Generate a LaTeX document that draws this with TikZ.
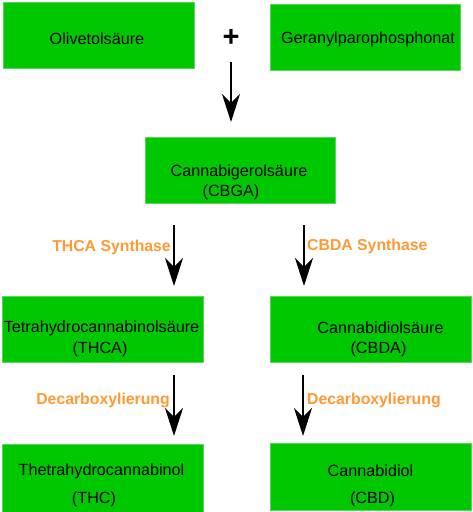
\documentclass[tikz,border=0pt]{standalone}
\usepackage{fontspec}
\setmainfont{Liberation Sans}
\usetikzlibrary{arrows.meta}
\definecolor{boxgreen}{RGB}{0,200,0}
\definecolor{boxedge}{RGB}{90,215,90}
\definecolor{enzorange}{RGB}{255,153,51}
\tikzset{
  box/.style={draw=boxedge, line width=0.8pt, fill=boxgreen, inner sep=0pt},
  boxtxt/.style={font=\fontsize{16.2}{19}\selectfont, inner sep=0pt, anchor=center},
  enz/.style={font=\fontsize{15.8}{18}\selectfont\bfseries, text=enzorange, inner sep=0pt},
  arr/.style={line width=2.2pt, -{Stealth[length=28pt, width=18pt, inset=9pt]}}
}
\begin{document}
\begin{tikzpicture}[x=1pt, y=-1pt]
\useasboundingbox (0,0) rectangle (472,512);
% boxes
\node[box, minimum width=191pt, minimum height=66pt] (oli) at (98.5,35) {};
\node[box, minimum width=190pt, minimum height=66pt] (ger) at (365,37) {};
\node[box, minimum width=190pt, minimum height=66pt] (cbga) at (240,170) {};
\node[box, minimum width=201pt, minimum height=66pt] (thca) at (102.5,329) {};
\node[box, minimum width=201pt, minimum height=66pt] (cbda) at (370.5,329) {};
\node[box, minimum width=201pt, minimum height=68pt] (thc) at (102.5,478) {};
\node[box, minimum width=201pt, minimum height=67pt] (cbd) at (370.5,476.5) {};
% texts
\node[boxtxt] (tOli) at (97,39) {Olivetolsäure};
\node[boxtxt] (tGer) at (368,39) {Geranylparophosphonat};
\node[boxtxt] (tCbga1) at (239,172) {Cannabigerolsäure};
\node[boxtxt] (tCbga2) at (231,192) {(CBGA)};
\node[boxtxt] (tThca1) at (101.5,328) {Tetrahydrocannabinolsäure};
\node[boxtxt] (tThca2) at (100,349) {(THCA)};
\node[boxtxt] (tCbda1) at (380.5,328) {Cannabidiolsäure};
\node[boxtxt] (tCbda2) at (378.5,349) {(CBDA)};
\node[boxtxt] (tThc1) at (101.5,471) {Thetrahydrocannabinol};
\node[boxtxt] (tThc2) at (94,499) {(THC)};
\node[boxtxt] (tCbd1) at (370.5,471) {Cannabidiol};
\node[boxtxt] (tCbd2) at (372.5,499) {(CBD)};
% plus
\node[font=\fontsize{29}{30}\selectfont\bfseries, inner sep=0pt] (plus) at (231,38) {+};
% enzyme labels
\node[enz, anchor=east] (lThca) at (171,247) {THCA Synthase};
\node[enz, anchor=west] (lCbda) at (307,246) {CBDA Synthase};
\node[enz, anchor=east] (lDec1) at (170,400) {Decarboxylierung};
\node[enz, anchor=west] (lDec2) at (307,400) {Decarboxylierung};
% arrow endpoints
\coordinate (a0s) at (231,62);  \coordinate (a0e) at (231,122);
\coordinate (a1s) at (174,225); \coordinate (a1e) at (174,286);
\coordinate (a2s) at (304,225); \coordinate (a2e) at (304,286);
\coordinate (a3s) at (174,375); \coordinate (a3e) at (174,436);
\coordinate (a4s) at (303,375); \coordinate (a4e) at (303,436);
\draw[arr] (a0s) -- (a0e);
\draw[arr] (a1s) -- (a1e);
\draw[arr] (a2s) -- (a2e);
\draw[arr] (a3s) -- (a3e);
\draw[arr] (a4s) -- (a4e);
\end{tikzpicture}
\end{document}
